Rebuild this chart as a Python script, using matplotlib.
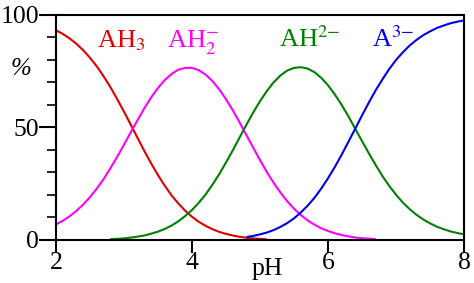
import matplotlib
matplotlib.use("Agg")
import matplotlib.pyplot as plt
from matplotlib.ticker import MultipleLocator

plt.rcParams["font.family"] = ["Liberation Serif", "DejaVu Serif"]
plt.rcParams["mathtext.fontset"] = "stix"

# species fractions (%), triprotic acid AH3 -> A3-
ph_ah3 = [2.0, 2.1, 2.2, 2.3, 2.4, 2.5, 2.6, 2.7, 2.8, 2.9, 3.0, 3.1, 3.2, 3.3, 3.4, 3.5,
          3.6, 3.7, 3.8, 3.9, 4.0, 4.1, 4.2, 4.3, 4.4, 4.5, 4.6, 4.7, 4.8, 4.9, 5.0, 5.1]
pct_ah3 = [93.1, 91.5, 89.5, 87.1, 84.3, 80.9, 77.1, 72.7, 67.9, 62.6, 57.0, 51.2, 45.3, 39.5, 34.0, 28.8,
           24.1, 19.8, 16.2, 13.0, 10.3, 8.1, 6.3, 4.8, 3.6, 2.7, 2.0, 1.4, 1.0, 0.7, 0.5, 0.3]

ph_ah2 = [2.0, 2.1, 2.2, 2.3, 2.4, 2.5, 2.6, 2.7, 2.8, 2.9, 3.0, 3.1, 3.2, 3.3, 3.4, 3.5,
          3.6, 3.7, 3.8, 3.9, 4.0, 4.1, 4.2, 4.3, 4.4, 4.5, 4.6, 4.7, 4.8, 4.9, 5.0, 5.1,
          5.2, 5.3, 5.4, 5.5, 5.6, 5.7, 5.8, 5.9, 6.0, 6.1, 6.2, 6.3, 6.4, 6.5, 6.6, 6.7]
pct_ah2 = [6.9, 8.5, 10.5, 12.9, 15.7, 19.0, 22.8, 27.0, 31.8, 36.9, 42.3, 47.8, 53.2, 58.5, 63.3, 67.5,
           71.0, 73.7, 75.6, 76.4, 76.4, 75.4, 73.4, 70.6, 66.9, 62.5, 57.6, 52.2, 46.6, 41.0, 35.5, 30.2,
           25.4, 21.1, 17.2, 13.9, 11.1, 8.7, 6.8, 5.2, 4.0, 3.0, 2.2, 1.6, 1.1, 0.8, 0.6, 0.4]

ph_ah = [2.8, 2.9, 3.0, 3.1, 3.2, 3.3, 3.4, 3.5, 3.6, 3.7, 3.8, 3.9, 4.0, 4.1, 4.2, 4.3,
         4.4, 4.5, 4.6, 4.7, 4.8, 4.9, 5.0, 5.1, 5.2, 5.3, 5.4, 5.5, 5.6, 5.7, 5.8, 5.9,
         6.0, 6.1, 6.2, 6.3, 6.4, 6.5, 6.6, 6.7, 6.8, 6.9, 7.0, 7.1, 7.2, 7.3, 7.4, 7.5,
         7.6, 7.7, 7.8, 7.9, 8.0]
pct_ah = [0.35, 0.5, 0.7, 1.05, 1.5, 2.0, 2.8, 3.7, 4.9, 6.4, 8.3, 10.6, 13.3, 16.5, 20.2, 24.5,
          29.2, 34.4, 39.8, 45.5, 51.1, 56.6, 61.6, 66.1, 70.0, 73.0, 75.2, 76.4, 76.7, 76.1, 74.5, 72.0,
          68.7, 64.6, 60.0, 54.9, 49.4, 43.9, 38.5, 33.3, 28.4, 24.0, 20.1, 16.6, 13.7, 11.2, 9.1, 7.4,
          5.9, 4.8, 3.8, 3.1, 2.5]

ph_a = [4.8, 4.9, 5.0, 5.1, 5.2, 5.3, 5.4, 5.5, 5.6, 5.7, 5.8, 5.9, 6.0, 6.1, 6.2, 6.3,
        6.4, 6.5, 6.6, 6.7, 6.8, 6.9, 7.0, 7.1, 7.2, 7.3, 7.4, 7.5, 7.6, 7.7, 7.8, 7.9, 8.0]
pct_a = [1.3, 1.8, 2.5, 3.3, 4.4, 5.8, 7.5, 9.6, 12.2, 15.2, 18.7, 22.8, 27.4, 32.4, 37.8, 43.6,
         49.4, 55.3, 61.0, 66.4, 71.3, 75.9, 79.9, 83.3, 86.3, 88.8, 90.9, 92.6, 94.1, 95.2, 96.2, 96.9, 97.5]

species = ["AH$_3$", "AH$_2^{-}$", "AH$^{2{-}}$", "A$^{3{-}}$"]
colors = ["#e00000", "#ff00ff", "#008000", "#0000ee"]
label_x = [2.6, 3.63, 5.28, 6.65]

fig = plt.figure(figsize=(4.74, 2.83), dpi=100)
ax = fig.add_axes([0.118, 0.152, 0.861, 0.796])

series = [(ph_ah3, pct_ah3), (ph_ah2, pct_ah2), (ph_ah, pct_ah), (ph_a, pct_a)]
for (x, y), c in zip(series, colors):
    ax.plot(x, y, color=c, lw=1.5, solid_capstyle="butt")

for name, c, lx in zip(species, colors, label_x):
    ax.text(lx, 85.5, name, color=c, fontsize=19, va="baseline", ha="left")

ax.set_xlim(2, 8)
ax.set_ylim(0, 100)
ax.set_xticks([2, 4, 6, 8])
ax.set_yticks([0, 50, 100])
ax.yaxis.set_minor_locator(MultipleLocator(10))

for side in ["left", "right", "top", "bottom"]:
    ax.spines[side].set_linewidth(1.5)

ax.tick_params(axis="x", direction="out", length=9.5, width=1.5, labelsize=18.5, pad=-1)
ax.tick_params(axis="y", which="major", direction="out", length=12, width=1.5, labelsize=18.5, pad=0)
ax.tick_params(axis="y", which="minor", direction="out", length=6.5, width=1.2)

ax.text(0.517, -0.156, "pH", transform=ax.transAxes, ha="center", va="baseline", fontsize=18.5)
ax.text(-0.085, 0.76, "%", transform=ax.transAxes, ha="center", va="center", fontsize=18,
        style="italic")

fig.savefig("out.png", dpi=100)
